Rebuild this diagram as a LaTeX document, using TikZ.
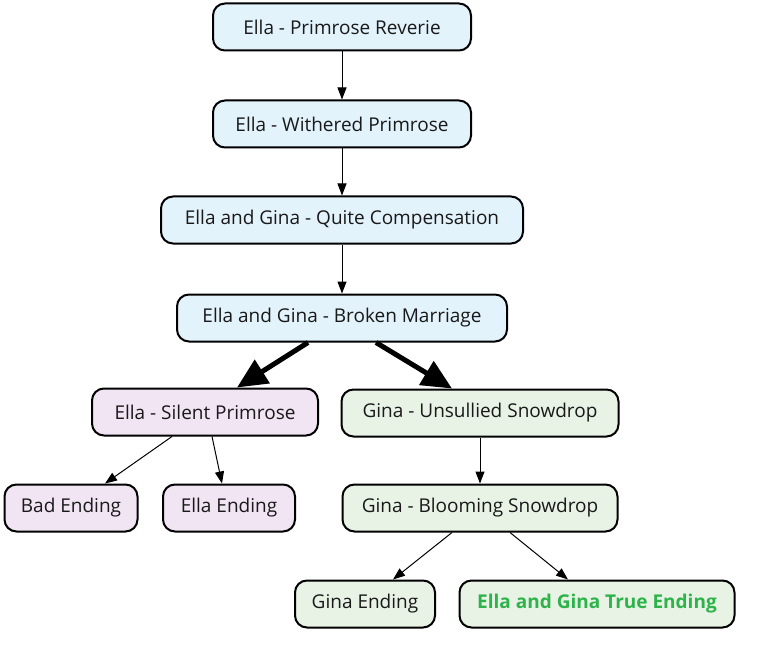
\documentclass[tikz,border=0pt]{standalone}
\usepackage{fontspec}
\setmainfont{Open Sans}
\usetikzlibrary{arrows.meta}
\definecolor{ellablue}{HTML}{E3F3FC}
\definecolor{ellapink}{HTML}{F1E4F3}
\definecolor{ginagreen}{HTML}{E8F3E6}
\definecolor{truegreen}{HTML}{2DB34A}
\begin{document}
\begin{tikzpicture}[
        x=1pt, y=-1pt,
        every node/.style={draw, line width=2pt, rounded corners=12pt, minimum height=47pt, font=\fontsize{19}{22}\selectfont, text=black!90},
        route/.style={fill=ellablue},
        ella/.style={fill=ellapink},
        gina/.style={fill=ginagreen},
        thin/.style={-{Triangle[length=12pt, width=9pt]}, line width=1pt},
        thick/.style={-{Triangle[length=30pt, width=27pt]}, line width=5pt}
    ]
        \useasboundingbox (0,0) rectangle (760,655);
        % Vẽ các nút chính
        \node[route, minimum width=258pt] (PR) at (342,27) {Ella - Primrose Reverie};
        \node[route, minimum width=258pt] (WP) at (342,124) {Ella - Withered Primrose};
        \node[route, minimum width=362pt] (QC) at (342,220) {Ella and Gina - Quite Compensation};
        \node[route, minimum width=330pt] (BM) at (342,318) {Ella and Gina - Broken Marriage};
        \node[ella, minimum width=226pt] (SP) at (205,412) {Ella - Silent Primrose};
        \node[gina, minimum width=277pt] (US) at (480,413) {Gina - Unsullied Snowdrop};
        \node[ella, minimum width=133pt] (BE) at (71,508) {Bad Ending};
        \node[ella, minimum width=132pt] (EE) at (229,508) {Ella Ending};
        \node[gina, minimum width=275pt] (BS) at (480,508) {Gina - Blooming Snowdrop};
        \node[gina, minimum width=140pt] (GE) at (365,604) {Gina Ending};
        \node[gina, minimum width=275pt, text=truegreen, font=\bfseries\fontsize{19}{22}\selectfont] (TE) at (597,604) {Ella and Gina True Ending};

        % Thêm các mũi tên
        \draw[thin] (PR) -- (WP);
        \draw[thin] (WP) -- (QC);
        \draw[thin] (QC) -- (BM);
        \draw[thick] ([xshift=-34pt]BM.south) -- ([xshift=32pt]SP.north);
        \draw[thick] ([xshift=34pt]BM.south) -- ([xshift=-28pt]US.north);
        \draw[thin] (US) -- (BS);
        \draw[thin] ([xshift=-33pt]SP.south) -- ([xshift=34pt]BE.north);
        \draw[thin] ([xshift=7pt]SP.south) -- ([xshift=-7pt]EE.north);
        \draw[thin] ([xshift=-28pt]BS.south) -- ([xshift=28pt]GE.north);
        \draw[thin] ([xshift=30pt]BS.south) -- ([xshift=-29pt]TE.north);
    \end{tikzpicture}
\end{document}
